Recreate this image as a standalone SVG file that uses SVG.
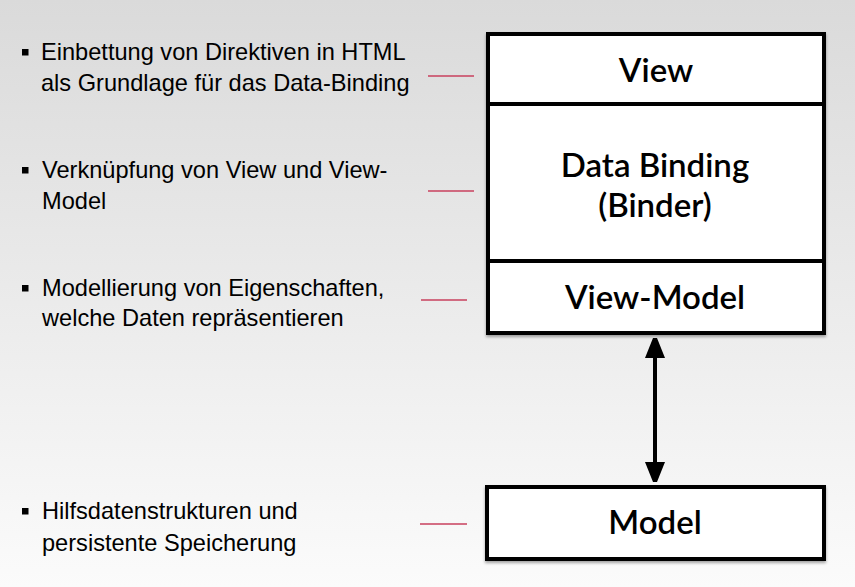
<svg xmlns="http://www.w3.org/2000/svg" width="855" height="587" viewBox="0 0 855 587">
<defs>
<linearGradient id="bg" x1="0" y1="0" x2="0" y2="1">
<stop offset="0" stop-color="#dadada"/>
<stop offset="1" stop-color="#fbfbfb"/>
</linearGradient>
<filter id="sh" x="-5%" y="-5%" width="110%" height="115%">
<feDropShadow dx="0" dy="2" stdDeviation="1.5" flood-color="#000" flood-opacity="0.35"/>
</filter>
<marker id="ah" viewBox="0 0 20 26" refX="20" refY="10" markerWidth="20" markerHeight="26" markerUnits="userSpaceOnUse" orient="auto-start-reverse">
<path d="M0,0 L25,10 L0,20 Z" fill="#000"/>
</marker>
<style>
.bt{font-family:"Liberation Sans",Arial,sans-serif;font-size:23.6px;fill:#000}
.bl{fill:#000}
.box{fill:#fff;stroke:#000;stroke-width:4}
.div{stroke:#000;stroke-width:4}
.lab{font-family:Lato,"Noto Sans",sans-serif;font-weight:600;font-size:33px;fill:#000;text-anchor:middle}
.red{stroke:#c8405e;stroke-width:1.6}
</style>
</defs>
<rect width="855" height="587" fill="url(#bg)"/>

<g id="bullets">
<g id="b1">
<rect class="bl" x="22" y="49" width="6.5" height="6.5"/>
<text class="bt" x="41" y="60">Einbettung von Direktiven in HTML</text>
<text class="bt" x="41" y="91">als Grundlage für das Data-Binding</text>
</g>
<g id="b2">
<rect class="bl" x="22" y="167" width="6.5" height="6.5"/>
<text class="bt" x="42" y="178">Verknüpfung von View und View-</text>
<text class="bt" x="42" y="209">Model</text>
</g>
<g id="b3">
<rect class="bl" x="22" y="285" width="6.5" height="6.5"/>
<text class="bt" x="42" y="296">Modellierung von Eigenschaften,</text>
<text class="bt" x="42" y="326">welche Daten repräsentieren</text>
</g>
<g id="b4">
<rect class="bl" x="22" y="508" width="6.5" height="6.5"/>
<text class="bt" x="42" y="519">Hilfsdatenstrukturen und</text>
<text class="bt" x="42" y="551">persistente Speicherung</text>
</g>
</g>

<g id="leaders">
<line class="red" x1="428" y1="76" x2="474" y2="76"/>
<line class="red" x1="428" y1="191" x2="474" y2="191"/>
<line class="red" x1="421" y1="300" x2="467" y2="300"/>
<line class="red" x1="420" y1="524" x2="467" y2="524"/>
</g>

<g id="stack" filter="url(#sh)">
<rect class="box" x="488" y="34" width="336" height="299"/>
<line class="div" x1="488" y1="104" x2="824" y2="104"/>
<line class="div" x1="488" y1="261" x2="824" y2="261"/>
</g>
<g id="view"><text class="lab" x="656" y="82">View</text></g>
<g id="binder">
<text class="lab" x="655" y="177">Data Binding</text>
<text class="lab" x="655" y="217">(Binder)</text>
</g>
<g id="viewmodel"><text class="lab" x="655" y="309">View-Model</text></g>

<g id="model">
<rect class="box" x="487" y="487" width="337" height="72" filter="url(#sh)"/>
<text class="lab" x="655" y="534">Model</text>
</g>

<g id="connectors">
<line x1="655" y1="338" x2="655" y2="482" stroke="#000" stroke-width="4" marker-start="url(#ah)" marker-end="url(#ah)"/>
</g>
</svg>
